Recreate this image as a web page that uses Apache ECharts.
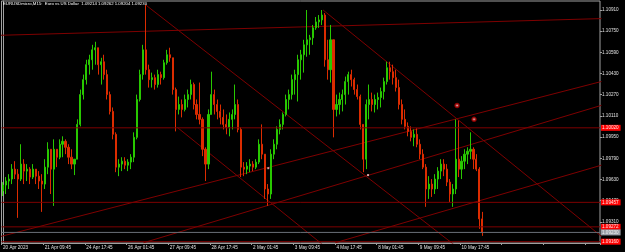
<!DOCTYPE html>
<html>
<head>
<meta charset="utf-8">
<script src="https://cdn.jsdelivr.net/npm/echarts@6/dist/echarts.min.js"></script>
<style>
html, body { margin: 0; background: #000; }
#chart { width: 625px; height: 252px; }
</style>
</head>
<body>
<div id="chart"></div>
<script>
// time labels, one every 14 slots
const timeLabels = ['20 Apr 2023', '21 Apr 09:45', '24 Apr 17:45', '26 Apr 01:45', '27 Apr 09:45', '28 Apr 17:45',
  '2 May 01:45', '3 May 09:45', '4 May 17:45', '8 May 01:45', '9 May 09:45', '10 May 17:45']
const labelEvery = 14
const slotCount = 201

// [open, close, low, high]
const candles = [
  [1.09543, 1.09588, 1.09505, 1.09610], [1.09588, 1.09618, 1.09520, 1.09648], [1.09618, 1.09633, 1.09558, 1.09670],
  [1.09633, 1.09708, 1.09595, 1.09746], [1.09708, 1.09670, 1.09633, 1.09768], [1.09670, 1.09633, 1.09340, 1.09708],
  [1.09633, 1.09746, 1.09618, 1.09896], [1.09746, 1.09693, 1.09595, 1.09783], [1.09693, 1.09708, 1.09618, 1.09746],
  [1.09708, 1.09648, 1.09595, 1.09723], [1.09648, 1.09708, 1.09633, 1.09746], [1.09708, 1.09655, 1.09595, 1.09708],
  [1.09655, 1.09618, 1.09558, 1.09693], [1.09618, 1.09595, 1.09385, 1.09670], [1.09595, 1.09723, 1.09558, 1.09783],
  [1.09723, 1.09858, 1.09670, 1.09911], [1.09858, 1.09708, 1.09520, 1.09858], [1.09708, 1.09858, 1.09430, 1.09933],
  [1.09858, 1.09798, 1.09723, 1.09858], [1.09798, 1.09896, 1.09783, 1.09933], [1.09896, 1.09918, 1.09798, 1.09956],
  [1.09918, 1.09873, 1.09821, 1.09933], [1.09873, 1.09798, 1.09746, 1.09896], [1.09798, 1.09746, 1.09708, 1.09858],
  [1.09746, 1.09783, 1.09663, 1.09783], [1.09783, 1.10046, 1.09783, 1.10084], [1.10046, 1.10271, 1.10031, 1.10309],
  [1.10271, 1.10384, 1.10234, 1.10422], [1.10384, 1.10497, 1.10347, 1.10534], [1.10497, 1.10534, 1.10422, 1.10572],
  [1.10534, 1.10609, 1.10459, 1.10647], [1.10609, 1.10625, 1.10497, 1.10670], [1.10625, 1.10497, 1.10422, 1.10625],
  [1.10497, 1.10519, 1.10347, 1.10549], [1.10519, 1.10422, 1.10384, 1.10572], [1.10422, 1.10271, 1.10234, 1.10459],
  [1.10271, 1.10144, 1.10121, 1.10294], [1.10144, 1.09971, 1.09933, 1.10174], [1.09971, 1.09723, 1.09685, 1.09986],
  [1.09723, 1.09746, 1.09655, 1.09783], [1.09746, 1.09768, 1.09693, 1.09798], [1.09768, 1.09738, 1.09708, 1.09798],
  [1.09738, 1.09761, 1.09693, 1.09783], [1.09761, 1.09798, 1.09708, 1.09821], [1.09798, 1.09948, 1.09761, 1.09986],
  [1.09948, 1.10234, 1.09933, 1.10271], [1.10234, 1.10422, 1.10219, 1.10459], [1.10422, 1.10609, 1.10384, 1.10647],
  [1.10609, 1.10459, 1.10422, 1.10947], [1.10459, 1.10384, 1.10324, 1.10497], [1.10384, 1.10399, 1.10324, 1.10437],
  [1.10399, 1.10347, 1.10309, 1.10422], [1.10347, 1.10422, 1.10324, 1.10459], [1.10422, 1.10399, 1.10347, 1.10444],
  [1.10399, 1.10512, 1.10384, 1.10534], [1.10512, 1.10572, 1.10497, 1.10609], [1.10572, 1.10549, 1.10519, 1.10625],
  [1.10549, 1.10309, 1.10271, 1.10549], [1.10309, 1.10159, 1.09993, 1.10324], [1.10159, 1.10196, 1.10121, 1.10256],
  [1.10196, 1.10159, 1.10099, 1.10234], [1.10159, 1.10234, 1.10144, 1.10271], [1.10234, 1.10271, 1.10174, 1.10309],
  [1.10271, 1.10347, 1.10234, 1.10384], [1.10347, 1.10196, 1.10159, 1.10362], [1.10196, 1.10121, 1.10084, 1.10234],
  [1.10121, 1.10084, 1.10046, 1.10362], [1.10084, 1.09858, 1.09806, 1.10099], [1.09858, 1.09746, 1.09618, 1.09873],
  [1.09746, 1.10121, 1.09708, 1.10159], [1.10121, 1.10271, 1.10121, 1.10444], [1.10271, 1.10196, 1.10121, 1.10309],
  [1.10196, 1.10144, 1.10084, 1.10234], [1.10144, 1.10099, 1.10046, 1.10196], [1.10099, 1.10046, 1.10008, 1.10159],
  [1.10046, 1.10024, 1.09971, 1.10121], [1.10024, 1.10084, 1.09956, 1.10136], [1.10084, 1.10121, 1.10008, 1.10159],
  [1.10121, 1.10196, 1.10084, 1.10347], [1.10196, 1.10008, 1.09986, 1.10234], [1.10008, 1.09723, 1.09648, 1.10024],
  [1.09723, 1.09708, 1.09655, 1.09761], [1.09708, 1.09731, 1.09670, 1.09761], [1.09731, 1.09746, 1.09685, 1.09783],
  [1.09746, 1.09723, 1.09693, 1.09768], [1.09723, 1.09761, 1.09708, 1.09783], [1.09761, 1.09896, 1.09746, 1.09933],
  [1.09896, 1.09821, 1.09783, 1.10046], [1.09821, 1.09558, 1.09483, 1.09821], [1.09558, 1.09520, 1.09430, 1.09595],
  [1.09520, 1.09821, 1.09483, 1.09858], [1.09821, 1.09896, 1.09783, 1.09933], [1.09896, 1.10008, 1.09858, 1.10031],
  [1.10008, 1.10046, 1.09971, 1.10084], [1.10046, 1.10121, 1.10008, 1.10136], [1.10121, 1.10234, 1.10106, 1.10271],
  [1.10234, 1.10271, 1.10159, 1.10309], [1.10271, 1.10384, 1.10234, 1.10422], [1.10384, 1.10422, 1.10271, 1.10459],
  [1.10422, 1.10534, 1.10219, 1.10572], [1.10534, 1.10572, 1.10384, 1.10609], [1.10572, 1.10647, 1.10437, 1.10685],
  [1.10647, 1.10685, 1.10557, 1.10910], [1.10685, 1.10700, 1.10572, 1.10722], [1.10700, 1.10775, 1.10647, 1.10797],
  [1.10775, 1.10820, 1.10760, 1.10857], [1.10820, 1.10835, 1.10775, 1.10872], [1.10835, 1.10872, 1.10797, 1.10910],
  [1.10872, 1.10534, 1.10482, 1.10887], [1.10534, 1.10459, 1.10384, 1.10685], [1.10459, 1.10685, 1.10362, 1.10797],
  [1.10685, 1.10159, 1.09948, 1.10685], [1.10159, 1.10196, 1.10106, 1.10271], [1.10196, 1.10234, 1.10121, 1.10286],
  [1.10234, 1.10271, 1.10144, 1.10309], [1.10271, 1.10369, 1.10196, 1.10407], [1.10369, 1.10422, 1.10271, 1.10444],
  [1.10422, 1.10384, 1.10332, 1.10459], [1.10384, 1.10309, 1.10271, 1.10399], [1.10309, 1.10256, 1.10234, 1.10347],
  [1.10256, 1.10046, 1.10008, 1.10271], [1.10046, 1.09783, 1.09685, 1.10046], [1.09783, 1.10196, 1.09708, 1.10234],
  [1.10196, 1.10234, 1.10084, 1.10347], [1.10234, 1.10196, 1.10144, 1.10286], [1.10196, 1.10234, 1.10136, 1.10271],
  [1.10234, 1.10249, 1.10159, 1.10286], [1.10249, 1.10294, 1.10174, 1.10324], [1.10294, 1.10369, 1.10234, 1.10399],
  [1.10369, 1.10474, 1.10347, 1.10519], [1.10474, 1.10444, 1.10384, 1.10519], [1.10444, 1.10399, 1.10347, 1.10497],
  [1.10399, 1.10324, 1.10294, 1.10459], [1.10324, 1.10196, 1.10159, 1.10384], [1.10196, 1.10084, 1.10046, 1.10234],
  [1.10084, 1.10031, 1.10008, 1.10159], [1.10031, 1.09993, 1.09956, 1.10061], [1.09993, 1.09948, 1.09918, 1.10031],
  [1.09948, 1.09971, 1.09881, 1.10008], [1.09971, 1.09896, 1.09873, 1.10016], [1.09896, 1.09821, 1.09783, 1.09933],
  [1.09821, 1.09723, 1.09708, 1.09858], [1.09723, 1.09558, 1.09423, 1.09746], [1.09558, 1.09595, 1.09483, 1.09655],
  [1.09595, 1.09558, 1.09498, 1.09633], [1.09558, 1.09633, 1.09520, 1.09670], [1.09633, 1.09693, 1.09558, 1.09723],
  [1.09693, 1.09746, 1.09633, 1.09783], [1.09746, 1.09708, 1.09655, 1.09783], [1.09708, 1.09610, 1.09580, 1.09746],
  [1.09610, 1.09520, 1.09460, 1.09633], [1.09520, 1.09558, 1.09423, 1.09595], [1.09558, 1.09783, 1.09520, 1.10084],
  [1.09783, 1.09708, 1.09648, 1.10076], [1.09708, 1.09768, 1.09633, 1.09806], [1.09768, 1.09821, 1.09708, 1.09858],
  [1.09821, 1.09843, 1.09746, 1.09873], [1.09843, 1.09858, 1.09783, 1.09986], [1.09858, 1.09783, 1.09708, 1.09873],
  [1.09783, 1.09708, 1.09693, 1.09821], [1.09708, 1.09332, 1.09257, 1.09723], [1.09332, 1.09230, 1.09204, 1.09385]
]

// price scale: labels every 0.0016 counted up from the bottom of the pane
const priceMin = 1.09150
const priceMax = 1.10978
const priceStep = 0.0016

// horizontal levels with their red price tags
const levels = [1.10020, 1.09457, 1.09272, 1.09160]
const bidPrice = 1.09230

// trend lines: [[slot, price], [slot, price]]
const trendLines = [
  [[-1, 1.10719], [201, 1.10845]],
  [[48, 1.10947], [153.5, 1.09102]],
  [[107.5, 1.10910], [201, 1.09200]],
  [[58.5, 1.10024], [110, 1.09090]],
  [[-1, 1.09198], [201, 1.10370]],
  [[47.2, 1.09152], [201, 1.10190]],
  [[111.6, 1.09152], [201, 1.09738]]
]

const arrowMarks = [[152.5, 1.10189], [158.2, 1.10084]]
const dotMarks = [[89.1, 1.09715], [122.6, 1.09663]]

const title = 'EURUSDmicro,M15:  Euro vs US Dollar  1.09214 1.09262 1.09204 1.09230'

const slots = []
for (let i = 0; i < slotCount; i++) slots.push('s' + i)

const showSlot = (idx) => idx % labelEvery === 0
const lineColor = '#7e0000'
const frameColor = '#a0a0a0'
const font = 'Liberation Sans'
const tagFont = 4.6

const chart = echarts.init(document.getElementById('chart'))

let series = [{
  type: 'candlestick',
  data: candles,
  barWidth: 1.6,
  itemStyle: {
    color: '#28c800',
    color0: '#dc2c00',
    borderColor: '#28c800',
    borderColor0: '#dc2c00',
    borderWidth: 1
  },
  z: 3
}]

trendLines.forEach((seg) => {
  series.push({
    type: 'line',
    xAxisIndex: 1,
    data: seg,
    showSymbol: false,
    clip: true,
    silent: true,
    z: 2,
    lineStyle: { color: lineColor, width: 1 }
  })
})

const levelSeries = (price, color, bg, textColor, z) => ({
  type: 'line',
  xAxisIndex: 1,
  data: [[-0.5, price], [slotCount - 0.5, price]],
  showSymbol: false,
  silent: true,
  z: z,
  lineStyle: { color: color, width: 1 },
  endLabel: {
    show: true,
    distance: 1,
    formatter: () => price.toFixed(5),
    backgroundColor: bg,
    color: textColor,
    fontFamily: font,
    fontSize: tagFont,
    padding: [1, 2, 0, 1]
  }
})

levels.forEach((v) => series.push(levelSeries(v, lineColor, '#ff0000', '#ffe6e6', 4)))
series.push(levelSeries(bidPrice, '#6a7078', '#9aa0a8', '#f0f0f0', 6))

series.push({
  type: 'scatter',
  xAxisIndex: 1,
  data: arrowMarks,
  symbol: 'emptyCircle',
  symbolSize: 3.5,
  itemStyle: { color: '#b00000', borderColor: '#b00000', borderWidth: 1 },
  z: 5
})
series.push({
  type: 'scatter',
  xAxisIndex: 1,
  data: dotMarks,
  symbol: 'rect',
  symbolSize: 2,
  itemStyle: { color: '#ffd0d0' },
  z: 5
})

chart.setOption({
  backgroundColor: '#000000',
  animation: false,
  title: {
    text: title,
    left: 3,
    top: 2,
    padding: 0,
    textStyle: { color: '#ffffff', fontSize: 4.3, fontWeight: 'normal', fontFamily: font }
  },
  grid: {
    left: 1,
    right: 25,
    top: 1,
    bottom: 9,
    show: true,
    borderColor: frameColor,
    borderWidth: 1,
    backgroundColor: '#000000'
  },
  xAxis: [{
    type: 'category',
    data: slots,
    boundaryGap: true,
    axisLine: { show: true, lineStyle: { color: frameColor } },
    axisTick: { show: true, interval: showSlot, length: 2, lineStyle: { color: frameColor } },
    axisLabel: {
      interval: showSlot,
      align: 'left',
      margin: 2,
      color: '#e0e0e0',
      fontSize: 4.6,
      fontFamily: font,
      formatter: (v, idx) => timeLabels[idx / labelEvery] || ''
    },
    splitLine: { show: false }
  }, {
    type: 'value',
    min: -0.5,
    max: slotCount - 0.5,
    show: false
  }],
  yAxis: [{
    type: 'value',
    position: 'right',
    min: priceMin,
    max: priceMax,
    axisLine: { show: true, lineStyle: { color: frameColor } },
    axisTick: { show: false },
    axisLabel: { show: false },
    splitLine: { show: false }
  }, {
    // label axis measured from the pane bottom, so ticks start at min
    type: 'value',
    position: 'right',
    min: 0,
    max: priceMax - priceMin,
    interval: priceStep,
    axisLine: { show: false },
    axisTick: { show: true, length: 2, lineStyle: { color: frameColor } },
    axisLabel: {
      showMinLabel: false,
      showMaxLabel: false,
      margin: 2,
      color: '#e0e0e0',
      fontSize: 4.6,
      fontFamily: font,
      formatter: (v) => (v + priceMin).toFixed(5)
    },
    splitLine: { show: false }
  }],
  series: series
})
</script>
</body>
</html>
